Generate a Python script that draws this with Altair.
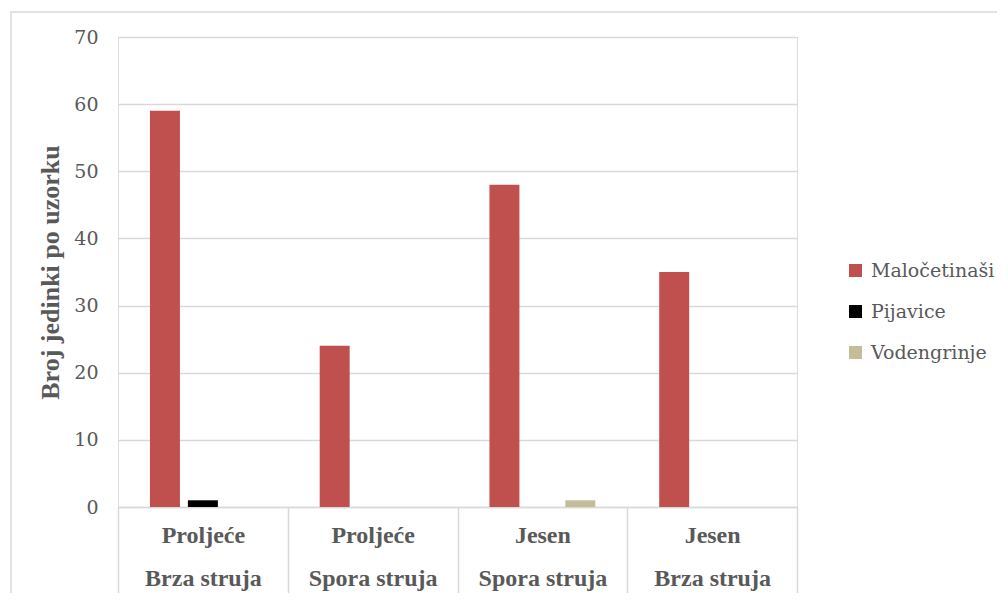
import altair as alt
import pandas as pd

categories = ["Proljeće|Brza struja", "Proljeće|Spora struja", "Jesen|Spora struja", "Jesen|Brza struja"]
series = ["Maločetinaši", "Pijavice", "Vodengrinje"]
malocetinasi = [59, 24, 48, 35]
pijavice = [1, 0, 0, 0]
vodengrinje = [0, 0, 1, 0]
colors = ["#C0504D", "#000000", "#C4BD97"]
y_ticks = [0, 10, 20, 30, 40, 50, 60, 70]

rows = []
for i, c in enumerate(categories):
    for s, vals in zip(series, [malocetinasi, pijavice, vodengrinje]):
        rows.append({"kategorija": c, "skupina": s, "broj": vals[i]})
df = pd.DataFrame(rows)

BOLD_FONT = "Liberation Serif"
REG_FONT = "DejaVu Serif"
TXT = "#595959"
GRID = "#D9D9D9"
TICK = 100

bars = alt.Chart(df).mark_bar().encode(
    x=alt.X("kategorija:N", sort=categories,
            scale=alt.Scale(paddingInner=0, paddingOuter=0),
            axis=alt.Axis(title=None, labelExpr="split(datum.label, '|')",
                          labelAngle=0, labelFont=BOLD_FONT, labelFontSize=24,
                          labelFontWeight="bold", labelColor=TXT,
                          labelLineHeight=43, labelPadding=16 - TICK,
                          labelBaseline="top",
                          tickBand="extent", tickSize=TICK, tickColor=GRID,
                          tickWidth=1.5, domainColor=GRID, domainWidth=1.5)),
    xOffset=alt.XOffset("skupina:N", sort=series,
                        scale=alt.Scale(paddingInner=0.21, paddingOuter=0.842)),
    y=alt.Y("broj:Q", scale=alt.Scale(domain=[0, 70], nice=False),
            axis=alt.Axis(title="Broj jedinki po uzorku", values=y_ticks,
                          domain=False, ticks=False, grid=True,
                          gridColor=GRID, gridWidth=1.3,
                          labelFont=REG_FONT, labelFontSize=19,
                          labelColor=TXT,
                          labelPadding=20, titleFont=BOLD_FONT, titleFontSize=26,
                          titleFontWeight="bold", titleColor=TXT,
                          titlePadding=10)),
    color=alt.Color("skupina:N", sort=series,
                    scale=alt.Scale(domain=series, range=colors),
                    legend=alt.Legend(title=None, orient="none",
                                      legendX=728, legendY=224, padding=0,
                                      symbolType="square", symbolSize=169,
                                      symbolStrokeWidth=0,
                                      labelFont=REG_FONT, labelFontSize=19,
                                      labelColor=TXT, labelOffset=6,
                                      rowPadding=21)),
)

frame = alt.Chart(alt.Data(values=[{"a": 1}])).mark_rect(
    fill=None, stroke=GRID, strokeWidth=1.5
).encode(
    x=alt.value(-107), x2=alt.value(900), y=alt.value(-25), y2=alt.value(620)
)

chart = alt.layer(frame, bars).properties(
    width=679, height=470,
    padding={"left": 110, "top": 29, "right": 200, "bottom": 86},
    autosize=alt.AutoSizeParams(type="none"),
).configure_view(stroke=None).configure(background="white")

chart.save("out.html", embed_options={"renderer": "svg", "actions": False})
